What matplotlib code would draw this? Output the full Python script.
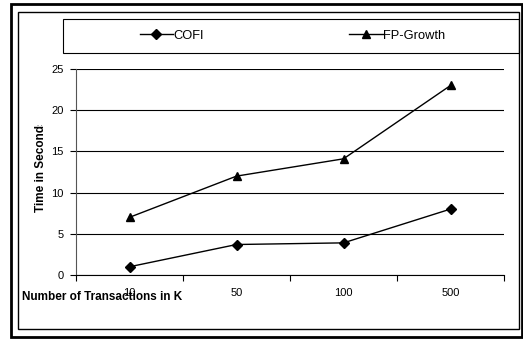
"""
Recreation of the COFI vs FP-Growth runtime chart (Excel-style line plot).
"""

import matplotlib
matplotlib.use("Agg")
import matplotlib.pyplot as plt
from matplotlib.patches import Rectangle
from matplotlib.transforms import Bbox, TransformedBbox

plt.rcParams["font.family"] = ["Liberation Sans", "DejaVu Sans"]
plt.rcParams["font.size"] = 8

# data
transactions = ["10", "50", "100", "500"]
cofi_times = [1, 3.7, 3.9, 8]
fp_growth_times = [7, 12, 14.1, 23]
y_ticks = [0, 5, 10, 15, 20, 25]

W, H = 523, 339
fig = plt.figure(figsize=(W / 100, H / 100), dpi=100)


def fx(px):
    return px / W


def fy(py):
    return 1 - py / H


# ── frame: thick outer box + thin inner box ────────────────────────────────
fig.patches.append(Rectangle((fx(10.5), fy(336.5)), fx(511), 333 / H,
                             transform=fig.transFigure, fill=False,
                             edgecolor="black", linewidth=2.0))
fig.patches.append(Rectangle((fx(18), fy(329)), fx(501), 317 / H,
                             transform=fig.transFigure, fill=False,
                             edgecolor="black", linewidth=1.0))
# legend box
fig.patches.append(Rectangle((fx(63), fy(53)), fx(456), 34 / H,
                             transform=fig.transFigure, fill=False,
                             edgecolor="black", linewidth=0.8))

# ── plot area ───────────────────────────────────────────────────────────────
ax = fig.add_axes([fx(76), fy(275), fx(504 - 76), (275 - 69) / H])
x = range(len(transactions))
l1, = ax.plot(x, cofi_times, color="black", linewidth=1.0,
              marker="D", markersize=5, label="COFI")
l2, = ax.plot(x, fp_growth_times, color="black", linewidth=1.0,
              marker="^", markersize=6, label="FP-Growth")

ax.set_xlim(-0.5, len(transactions) - 0.5)
ax.set_ylim(0, 25)
ax.set_yticks(y_ticks)
ax.set_xticks([i - 0.5 for i in range(len(transactions) + 1)], minor=False)
ax.set_xticklabels([])
ax.set_xticks(list(x), minor=True)
ax.set_xticklabels(transactions, minor=True)
ax.tick_params(axis="x", which="major", direction="out", length=4, width=0.8)
ax.tick_params(axis="x", which="minor", length=0, pad=9, labelsize=8)
ax.tick_params(axis="y", direction="out", length=4, width=0.8, pad=5,
               labelsize=8)
ax.yaxis.grid(True, color="black", linewidth=0.8)
ax.set_axisbelow(True)
for side in ("top", "right"):
    ax.spines[side].set_visible(False)
ax.spines["left"].set_color("#555555")
ax.spines["bottom"].set_color("black")
ax.set_facecolor("none")

# ── axis titles ─────────────────────────────────────────────────────────────
fig.text(fx(22), fy(297.5), "Number of Transactions in K", fontweight="bold",
         ha="left", va="center", fontsize=8.5)
ylab = fig.text(fx(41), fy(212), "Time in Seconds", fontweight="bold",
                rotation=90, ha="center", va="bottom", fontsize=8.5)
# the original label is cut off at the top of its text box
ylab.set_clip_box(TransformedBbox(Bbox([[0, fy(320)], [1, fy(125)]]),
                                  fig.transFigure))

# ── legend ──────────────────────────────────────────────────────────────────
fig.legend(handles=[l1, l2], loc="center", ncol=2,
           bbox_to_anchor=(fx(292.5), fy(35.5)), frameon=False,
           columnspacing=11.2, handlelength=2.6, handletextpad=0.05,
           fontsize=9.3)

fig.savefig("out.png", dpi=100, facecolor="white")
